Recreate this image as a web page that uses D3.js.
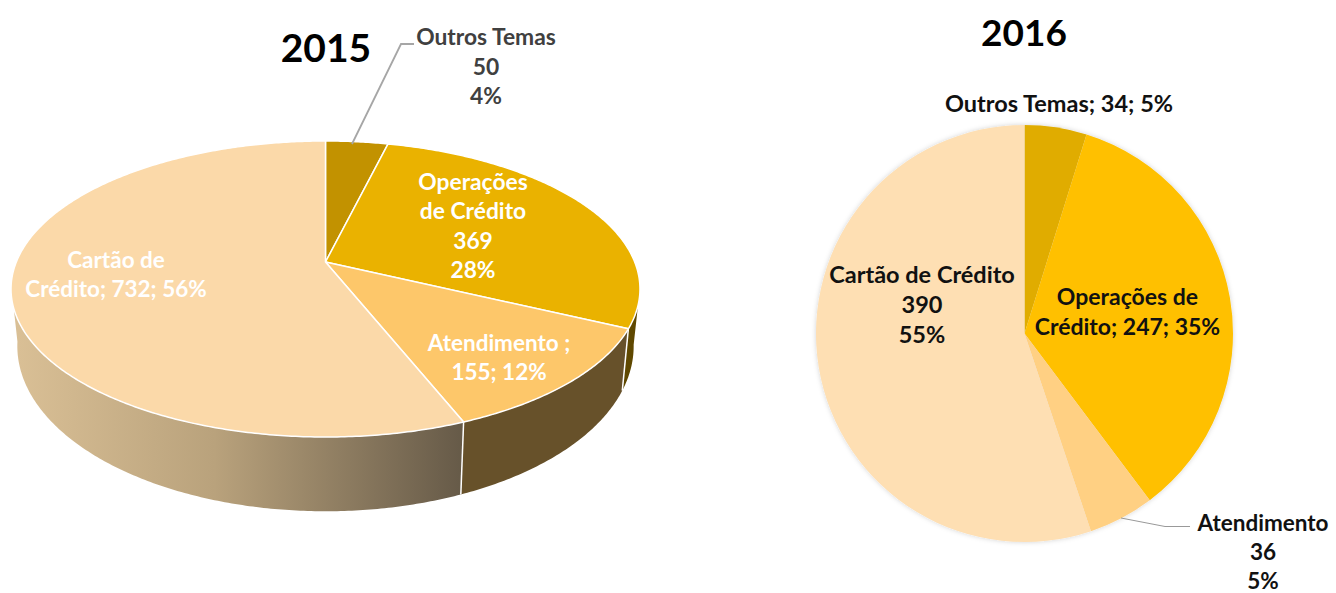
<!DOCTYPE html>
<html lang="pt">
<head>
<meta charset="utf-8">
<title>Reclamações 2015 e 2016</title>
<script src="https://cdn.jsdelivr.net/npm/d3@7"></script>
<style>
  html, body { margin: 0; padding: 0; background: #fff; }
  svg { display: block; }
  text { font-family: Lato, "Open Sans", sans-serif; font-weight: 700; text-anchor: middle; }
</style>
</head>
<body>
<div id="chart"></div>
<script>
const width = 1336;
const height = 593;

// Order is clockwise from 12 o'clock, same in both years
const categories = ["Outros Temas", "Operações de Crédito", "Atendimento", "Cartão de Crédito"];
const values2015 = [50, 369, 155, 732];
const shares2015 = ["4%", "28%", "12%", "56%"];
const values2016 = [34, 247, 36, 390];
const shares2016 = ["5%", "35%", "5%", "55%"];

const topColors2015 = ["#C29200", "#EAB200", "#FDC76A", "#FBD9A9"];
const sideColors2015 = ["#5F4800", "#5F4800", "#67512A", "url(#sideGradient)"];
const colors2016 = ["#E0AC00", "#FFC000", "#FFD083", "#FEDFB3"];

const svg = d3.select("#chart")
  .append("svg")
  .attr("width", width)
  .attr("height", height)
  .attr("viewBox", `0 0 ${width} ${height}`);

const defs = svg.append("defs");
const pie = d3.pie().sort(null).value(d => d);

// 2015 is a tilted 3D pie: project the unit circle with a small perspective
const cx = 325.5;
const perspective = 0.1824;
const topDisc = { scaleX: 309.2, y0: 262, yScale: 95.3 };
const bottomDisc = { scaleX: 303, y0: 316, yScale: 102 };

function project(disc, angle) {
  const u = Math.sin(angle);
  const v = -Math.cos(angle);
  const w = 1 - perspective * v;
  return [cx + disc.scaleX * u / w, (disc.y0 + disc.yScale * v) / w];
}

function rim(disc, a0, a1) {
  const steps = Math.max(2, Math.ceil(Math.abs(a1 - a0) / 0.01));
  return d3.range(steps + 1).map(i => project(disc, a0 + (a1 - a0) * i / steps));
}

const line = d3.line();
const apex = [cx, topDisc.y0];

function drawPie3d() {
  const g = svg.append("g").attr("class", "pie-2015");
  const arcs = pie(values2015);

  const gradient = defs.append("linearGradient")
    .attr("id", "sideGradient")
    .attr("gradientUnits", "userSpaceOnUse")
    .attr("x1", 12).attr("x2", 462)
    .attr("y1", 0).attr("y2", 0);
  gradient.append("stop").attr("offset", "0%").attr("stop-color", "#DAC096");
  gradient.append("stop").attr("offset", "45%").attr("stop-color", "#B9A27C");
  gradient.append("stop").attr("offset", "100%").attr("stop-color", "#665A48");

  // Only the front of the wall can be seen, between these two angles
  const sideStart = 100 * Math.PI / 180;
  const sideEnd = 261 * Math.PI / 180;

  g.selectAll("path.side")
    .data(arcs.filter(d => d.endAngle > sideStart))
    .join("path")
    .attr("class", "side")
    .attr("fill", d => sideColors2015[d.index])
    .attr("d", d => {
      const a0 = Math.max(d.startAngle, sideStart);
      const a1 = Math.min(d.endAngle, sideEnd);
      return line(rim(topDisc, a0, a1).concat(rim(bottomDisc, a1, a0))) + "Z";
    });

  // White seams on the wall where slices meet
  g.selectAll("path.seam")
    .data(arcs.filter(d => d.endAngle > sideStart && d.endAngle < sideEnd))
    .join("path")
    .attr("class", "seam")
    .attr("fill", "none")
    .attr("stroke", "#fff")
    .attr("stroke-width", 1.5)
    .attr("d", d => line([project(topDisc, d.endAngle), project(bottomDisc, d.endAngle)]));

  g.selectAll("path.top")
    .data(arcs)
    .join("path")
    .attr("class", "top")
    .attr("fill", d => topColors2015[d.index])
    .attr("stroke", "#fff")
    .attr("stroke-width", 1.5)
    .attr("stroke-linejoin", "round")
    .attr("d", d => line([apex].concat(rim(topDisc, d.startAngle, d.endAngle))) + "Z");
}

function drawPieFlat() {
  const arc = d3.arc().innerRadius(0).outerRadius(208.5);

  // The 2016 pie has a very faint soft shadow
  defs.append("filter")
    .attr("id", "softShadow")
    .attr("x", "-5%").attr("y", "-5%")
    .attr("width", "110%").attr("height", "110%")
    .append("feDropShadow")
    .attr("dx", 0).attr("dy", 0)
    .attr("stdDeviation", 2.5)
    .attr("flood-color", "#000")
    .attr("flood-opacity", 0.18);

  svg.append("g")
    .attr("class", "pie-2016")
    .attr("transform", "translate(1024.5,333.5)")
    .attr("filter", "url(#softShadow)")
    .selectAll("path")
    .data(pie(values2016))
    .join("path")
    .attr("fill", d => colors2016[d.index])
    .attr("d", arc);
}

function drawLeaders() {
  const leaders = [
    [[352, 144], [401, 44], [414, 44]],
    [[1121, 518], [1165, 526.5], [1190, 526.5]]
  ];
  svg.append("g")
    .selectAll("path")
    .data(leaders)
    .join("path")
    .attr("fill", "none")
    .attr("stroke", (d, i) => i === 0 ? "#A6A6A6" : "#999")
    .attr("stroke-width", (d, i) => i === 0 ? 1.8 : 1)
    .attr("d", line);
}

function drawLabels() {
  const cat = categories;
  const labels = [
    { x: 326, y: 62, size: 39, fill: "#000", lines: ["2015"] },
    { x: 486, y: 45, dy: 29.5, size: 22.8, fill: "#404040", lines: [cat[0], values2015[0], shares2015[0]] },
    { x: 473, y: 190, dy: 29.3, size: 22.8, fill: "#fff", lines: ["Operações", "de Crédito", values2015[1], shares2015[1]] },
    { x: 499, y: 350.5, dy: 29.5, size: 22.5, fill: "#fff", lines: [`${cat[2]} ;`, `${values2015[2]}; ${shares2015[2]}`] },
    { x: 116, y: 268, dy: 29, size: 22.5, fill: "#fff", lines: ["Cartão de", `Crédito; ${values2015[3]}; ${shares2015[3]}`] },

    { x: 1024, y: 46, size: 37, fill: "#000", lines: ["2016"] },
    { x: 1059, y: 112, size: 23.5, fill: "#111", lines: [`${cat[0]}; ${values2016[0]}; ${shares2016[0]}`] },
    { x: 1127.5, y: 305, dy: 30, size: 23, fill: "#111", lines: ["Operações de", `Crédito; ${values2016[1]}; ${shares2016[1]}`] },
    { x: 922, y: 283, dy: 30, size: 23.5, fill: "#111", lines: [cat[3], values2016[3], shares2016[3]] },
    { x: 1263, y: 531, dy: 28.8, size: 22.5, fill: "#111", lines: [cat[2], values2016[2], shares2016[2]] }
  ];

  const groups = svg.append("g")
    .selectAll("g")
    .data(labels)
    .join("g")
    .attr("font-size", d => d.size)
    .attr("fill", d => d.fill);

  groups.selectAll("text")
    .data(d => d.lines.map((text, i) => ({ text, x: d.x, y: d.y + i * (d.dy || 0) })))
    .join("text")
    .attr("x", d => d.x)
    .attr("y", d => d.y)
    .text(d => d.text);
}

drawPie3d();
drawPieFlat();
drawLeaders();
drawLabels();
</script>
</body>
</html>
